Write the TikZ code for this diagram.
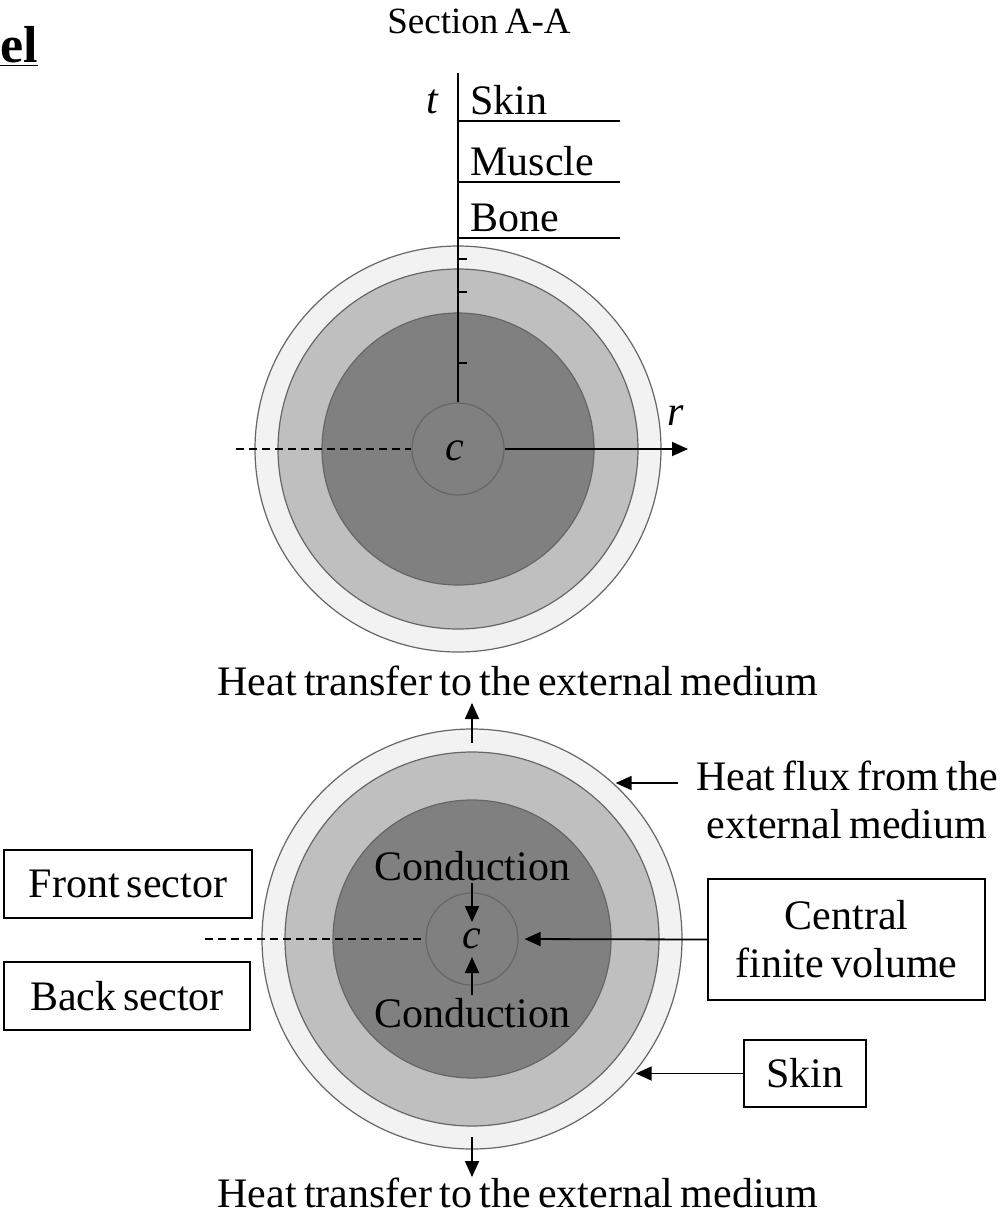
\documentclass[tikz,border=0pt]{standalone}
\usepackage{fontspec}
\setmainfont{Liberation Serif}[WordSpace=0.7]
\usepackage{tikz}
\usetikzlibrary{arrows.meta, positioning, calc}

\begin{document}
\begin{tikzpicture}[x=0.5pt, y=-0.5pt,
    font=\fontsize{21}{24}\selectfont,
    layer/.style={circle, draw=black!60, line width=0.6pt, inner sep=0pt, minimum size=#1},
    box/.style={draw, line width=0.9pt, inner sep=0pt, align=center},
    arr/.style={-{Triangle[length=8pt,width=7pt]}, line width=0.9pt},
    cut/.style={dash pattern=on 4pt off 2.5pt, line width=0.7pt}]
  \useasboundingbox (0,0) rectangle (1000,1217);

  % heading
  \node[anchor=base west, inner sep=0pt, font=\fontsize{26}{30}\selectfont\bfseries] (head) at (0,62) {\underline{el}};
  \node[anchor=base, font=\fontsize{18.5}{22}\selectfont] (sec) at (479,33) {Section A-A};

  % section A-A
  \coordinate (ct) at (458,449);
  \node[layer=203pt, fill=black!5]  (skin_t)   at (ct) {};
  \node[layer=180pt, fill=black!25] (muscle_t) at (ct) {};
  \node[layer=136pt, fill=black!50] (bone_t)   at (ct) {};
  \node[layer=46pt,  fill=black!50] (c_t)      at (ct) {};
  \node (c_lab_t) at ($(ct)+(-3,2)$) {\textit{c}};

  \coordinate (t_end) at (458,73);
  \coordinate (r_end) at (688,449);
  \coordinate (cut_t) at (236,449);
  \draw[line width=0.9pt] (c_t.north) -- (t_end);
  \draw[arr] (c_t.east) -- (r_end);
  \draw[cut] (cut_t) -- (c_t.west);
  \foreach \y in {259,292,363}
    \draw[line width=0.7pt] (458,\y) -- +(9,0);
  \node[anchor=base] (t_lab) at (433,113) {\textit{t}};
  \node[anchor=base] (r_lab) at (676,425) {\textit{r}};

  \foreach \y/\lab [count=\i] in {121/Skin,182/Muscle,238/Bone} {
    \draw[line width=0.9pt] (458,\y) -- (620,\y);
    \node[anchor=base west, inner sep=0pt] (lab_\i) at (470,\y-7) {\lab};
  }

  % model with sectors
  \coordinate (cb) at (472,939);
  \node[layer=210pt, fill=black!5]  (skin_b)   at (cb) {};
  \node[layer=187pt, fill=black!25] (muscle_b) at (cb) {};
  \node[layer=139pt, fill=black!50] (bone_b)   at (cb) {};
  \node[layer=46pt,  fill=black!50] (c_b)      at (cb) {};
  \node (c_lab_b) at (cb) {\textit{c}};

  \node[anchor=base] (heat_up)  at (518,695)  {Heat transfer to the external medium};
  \node[anchor=base] (heat_down) at (518,1207) {Heat transfer to the external medium};
  \node[align=center] (flux) at (847,800) {Heat flux from the\\external medium};
  \node[anchor=base, inner sep=1pt] (cond_top) at (472,880)  {Conduction};
  \node[anchor=base, inner sep=1pt] (cond_bot) at (472,1027) {Conduction};

  \node[box, minimum width=124pt, minimum height=34pt]   (front) at (128,884)    {Front sector};
  \node[box, minimum width=123pt, minimum height=34pt]   (back)  at (127,996)    {Back sector};
  \node[box, minimum width=138.5pt, minimum height=60.5pt] (cfv) at (846.5,939.5) {Central\\finite volume};
  \node[box, minimum width=61pt, minimum height=33.5pt]  (skin)  at (805,1073.5) {Skin};

  \coordinate (up_start)   at (472,743);
  \coordinate (up_tip)     at (472,703);
  \coordinate (down_start) at (472,1137);
  \coordinate (down_tip)   at (472,1177);
  \coordinate (flux_start) at (678,783);
  \coordinate (cond_tip_t) at (472,922);
  \coordinate (cond_tip_b) at (472,957);
  \coordinate (cut_b)      at (205,939);

  \draw[arr] (up_start) -- (up_tip);
  \draw[arr] (down_start) -- (down_tip);
  \draw[arr] (flux_start) -- (skin_b.47 |- flux_start);
  \draw[arr] (skin.west) -- (skin_b.-39 |- skin.west);
  \draw[arr, shorten >=3pt] (cfv.west) -- (c_b.east);
  \draw[arr] (cond_top.south) -- (cond_tip_t);
  \draw[arr] (cond_bot.north) -- (cond_tip_b);
  \draw[cut] (cut_b) -- (c_b.west);
\end{tikzpicture}
\end{document}
